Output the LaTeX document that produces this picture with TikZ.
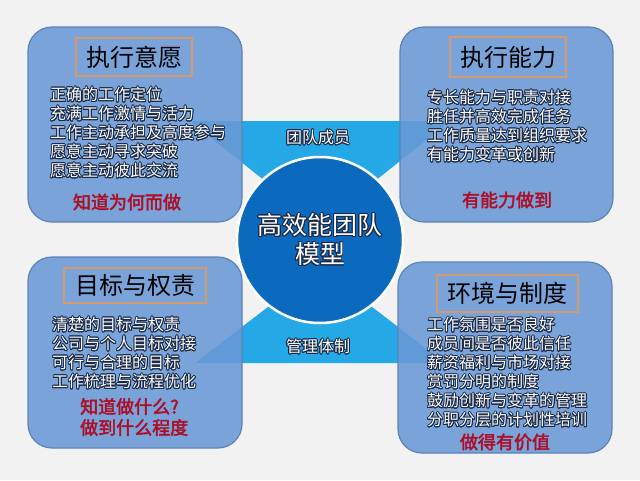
\documentclass[tikz,border=0pt]{standalone}
\usepackage{fontspec}
\setmainfont{Noto Sans CJK SC}[AutoFakeBold=2.5]
\usepackage{contour}
\contourlength{0.8pt}
\contournumber{20}

\definecolor{pagegray}{HTML}{F2F2F2}
\definecolor{bandblue}{HTML}{25A9E6}
\definecolor{boxblue}{HTML}{6A9AD6}
\definecolor{boxedge}{HTML}{5C82BA}
\definecolor{hubblue}{HTML}{0B69BE}
\definecolor{tagedge}{HTML}{D39A70}
\definecolor{slogan}{HTML}{AC1029}
\definecolor{glow}{HTML}{1A2A48}

\newcommand{\ol}[1]{\contour{glow}{#1}}

\begin{document}
\begin{tikzpicture}[x=1pt, y=-1pt,
	areabox/.style={draw=boxedge, line width=1.2pt, fill=boxblue, fill opacity=0.88,
		rounded corners=24pt, inner sep=0},
	tagbox/.style={draw=tagedge, line width=1.2pt, text=black, inner sep=0,
		font=\fontsize{24}{24}\selectfont},
	listtxt/.style={anchor=north west, align=left, text=white, inner sep=0,
		font=\fontsize{16}{19}\selectfont},
	slogantxt/.style={text=slogan, inner sep=0, font=\fontsize{18}{21}\selectfont\bfseries},
	bandtxt/.style={text=white, inner sep=0, font=\fontsize{16}{16}\selectfont},
	hub/.style={circle, fill=hubblue, draw=white, line width=2.5pt, minimum size=166pt,
		inner sep=0, align=center, text=white, font=\fontsize{25}{29}\selectfont}]

		% page
		\fill [pagegray] (0, 0) rectangle (640, 480);
		\useasboundingbox (0, 0) rectangle (640, 480);

		% the two bands behind the hub
		\fill [bandblue] (190, 121) -- (450, 121) -- (350, 201) -- (290, 201) -- cycle;
		\fill [bandblue] (195, 363) -- (445, 363) -- (350, 290) -- (290, 290) -- cycle;

		% four areas
		\node [areabox, minimum width=214pt, minimum height=195pt] (will) at (135, 124.5) {};
		\node [areabox, minimum width=213pt, minimum height=195pt] (ability) at (506.5, 124.5) {};
		\node [areabox, minimum width=214pt, minimum height=191pt] (goals) at (135, 352.5) {};
		\node [areabox, minimum width=214pt, minimum height=191pt] (setting) at (505, 357.5) {};

		% hub
		\node [hub] (model) at (320, 240) {\ol{高效能团队}\\\ol{模型}};
		\node [bandtxt] (members) at (318, 138) {\ol{团队成员}};
		\node [bandtxt] (system) at (318, 347) {\ol{管理体制}};

		% titles
		\node [tagbox, minimum width=116pt, minimum height=38pt] (will-t) at (134, 57) {执行意愿};
		\node [tagbox, minimum width=116pt, minimum height=40pt] (ability-t) at (508, 57) {执行能力};
		\node [tagbox, minimum width=142pt, minimum height=35pt] (goals-t) at (135, 285.5) {目标与权责};
		\node [tagbox, minimum width=141pt, minimum height=37pt] (setting-t) at (507.5, 293.5) {环境与制度};

		% lists
		\node [listtxt] (will-l) at (50, 87) {\ol{正确的工作定位}\\\ol{充满工作激情与活力}\\
			\ol{工作主动承担及高度参与}\\\ol{愿意主动寻求突破}\\\ol{愿意主动彼此交流}};
		\node [listtxt] (ability-l) at (427, 90) {\ol{专长能力与职责对接}\\\ol{胜任并高效完成任务}\\
			\ol{工作质量达到组织要求}\\\ol{有能力变革或创新}};
		\node [listtxt] (goals-l) at (52, 317) {\ol{清楚的目标与权责}\\\ol{公司与个人目标对接}\\
			\ol{可行与合理的目标}\\\ol{工作梳理与流程优化}};
		\node [listtxt] (setting-l) at (427, 317) {\ol{工作氛围是否良好}\\\ol{成员间是否彼此信任}\\
			\ol{薪资福利与市场对接}\\\ol{赏罚分明的制度}\\\ol{鼓励创新与变革的管理}\\
			\ol{分职分层的计划性培训}};

		% what each area brings
		\node [slogantxt] (will-s) at (127, 202) {知道为何而做};
		\node [slogantxt] (ability-s) at (507, 200) {有能力做到};
		\node [slogantxt, anchor=west, align=left] (goals-s) at (80, 417) {知道做什么?\\做到什么程度};
		\node [slogantxt] (setting-s) at (505, 442) {做得有价值};
	\end{tikzpicture}
\end{document}
